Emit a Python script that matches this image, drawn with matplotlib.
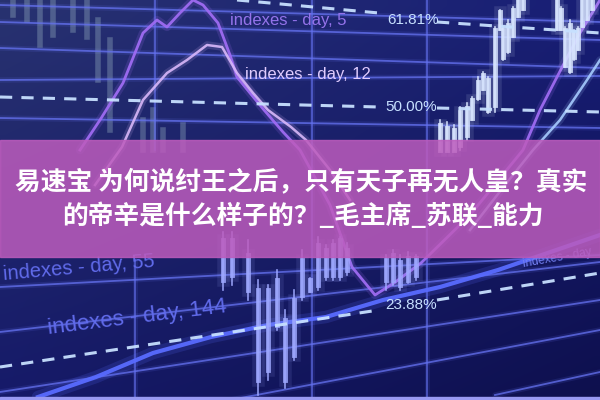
import numpy as np
import matplotlib
matplotlib.use("Agg")
import matplotlib.pyplot as plt
from matplotlib.patches import Rectangle

# ---------------- data (pixel-like chart units, y grows downward) ----------------
title_lines = ["易速宝 为何说纣王之后，只有天子再无人皇？真实",
               "的帝辛是什么样子的？_毛主席_苏联_能力"]

grid_h_top = [(0, 5, 600, 22), (0, 22, 600, 40), (0, 48, 600, 68),
              (0, 80, 600, 76), (0, 118, 600, 128)]
grid_h_bottom = [(0, 287, 600, 255), (0, 332, 600, 262), (0, 392, 600, 300),
                 (230, 400, 600, 330), (495, 395, 600, 372)]
grid_v = [(155, 0, 150), (135, 260, 400), (312, 0, 400), (427, 0, 400)]

fib_labels = ["61.81%", "50.00%", "23.88%"]
fib_label_x = [387, 385, 385]
fib_label_y = [20, 107, 305]
fib_left = [((237, 379), (0, 13)), ((0, 379), (97, 107)), ((0, 379), (367, 310))]
fib_right = [((437, 600), (22, 33)), ((437, 600), (108, 112)), ((437, 600), (300, 273))]

day5_x = [80, 100, 123, 143, 157, 167, 180, 193, 203, 218, 230, 237, 264, 283, 300,
          330, 352, 375, 394, 421, 470, 523, 540, 557, 580, 600]
day5_y = [150, 120, 83, 33, 20, 27, 13, 0, 5, 23, 55, 77, 110, 132, 150,
          205, 267, 295, 283, 263, 215, 150, 110, 77, 33, 0]

day12_x = [95, 122, 143, 167, 187, 207, 222, 237, 253, 268, 291, 306, 330, 350]
day12_y = [185, 147, 100, 73, 60, 45, 47, 73, 93, 110, 127, 140, 170, 200]

right_x = [470, 505, 533, 560, 587, 600]
right_y = [230, 185, 150, 120, 80, 60]

day144_x = [38, 96, 153, 211, 268, 326, 383, 440, 498, 536, 600]
day144_y = [397, 377, 353, 337, 325, 317, 300, 287, 270, 257, 235]

# candles: x, wick top, wick bottom, body top, body bottom
mid_x = [223, 232, 248, 258, 268, 277, 285, 294, 302, 310, 318, 326, 333, 340, 347,
         386, 393, 400, 408, 416]
mid_wt = [232, 232, 240, 280, 285, 270, 310, 290, 250, 278, 237, 245, 240, 237, 243,
          255, 250, 255, 252, 255]
mid_wb = [290, 285, 300, 395, 380, 330, 388, 360, 300, 292, 290, 280, 280, 280, 275,
          290, 285, 290, 283, 280]
mid_bt = [240, 240, 255, 290, 290, 280, 320, 300, 260, 280, 245, 250, 245, 240, 250,
          260, 255, 262, 258, 258]
mid_bb = [280, 275, 290, 380, 370, 325, 380, 355, 295, 290, 285, 275, 275, 275, 270,
          280, 280, 285, 280, 275]

rt_x = [440, 447, 454, 460, 467, 472, 478, 483, 488, 495, 500, 503, 508, 513, 518, 523,
        557, 561, 565, 570, 574, 578, 582, 587, 592]
rt_wt = [120, 122, 125, 107, 103, 97, 77, 72, 77, 27, 10, 27, 20, 7, 0, 0,
         0, 7, 27, 20, 30, 27, 0, 0, 0]
rt_wb = [150, 150, 150, 150, 140, 120, 100, 90, 113, 112, 30, 60, 53, 37, 17, 10,
         30, 30, 67, 73, 60, 50, 27, 20, 10]
rt_bt = [125, 128, 130, 112, 108, 100, 82, 75, 80, 30, 12, 30, 25, 10, 0, 0,
         0, 10, 30, 25, 32, 30, 0, 0, 0]
rt_bb = [150, 150, 150, 145, 135, 118, 97, 88, 110, 105, 28, 57, 50, 35, 15, 8,
         28, 28, 65, 70, 57, 48, 25, 18, 8]

tl_x = [13, 27, 40, 53, 73, 87, 98, 110, 143, 153, 163, 183]
tl_wt = [0, 0, 0, 0, 0, 0, 20, 40, 120, 110, 130, 125]
tl_wb = [15, 20, 45, 35, 30, 37, 80, 130, 150, 150, 150, 150]

# ---------------- figure ----------------
fig = plt.figure(figsize=(6, 4), dpi=100)
ax = fig.add_axes([0, 0, 1, 1])
ax.set_xlim(0, 600)
ax.set_ylim(400, 0)
ax.axis("off")

# background gradient
ny, nx = 40, 60
yy, xx = np.mgrid[0:1:ny * 1j, 0:1:nx * 1j]
tl = np.array([40, 50, 112]) / 255
tr = np.array([24, 30, 118]) / 255
bl = np.array([22, 26, 105]) / 255
br = np.array([14, 16, 78]) / 255
bg = ((1 - xx)[..., None] * (1 - yy)[..., None] * tl + xx[..., None] * (1 - yy)[..., None] * tr
      + (1 - xx)[..., None] * yy[..., None] * bl + xx[..., None] * yy[..., None] * br)
ax.imshow(bg, extent=(0, 600, 400, 0), aspect="auto", interpolation="bilinear", zorder=0)

gridc = (0.40, 0.45, 0.95)


def glow_line(x, y, color, lw, alpha=1.0, z=2, glow=3.0, ls="-"):
    ax.plot(x, y, color=color, lw=lw * glow, alpha=0.18 * alpha, solid_capstyle="round", zorder=z, ls=ls)
    ax.plot(x, y, color=color, lw=lw, alpha=alpha, zorder=z + 0.1, ls=ls)


for x0, y0, x1, y1 in grid_h_top + grid_h_bottom:
    glow_line([x0, x1], [y0, y1], gridc, 1.3, 0.75)
for x, y0, y1 in grid_v:
    glow_line([x, x], [y0, y1], gridc, 1.2, 0.7)

# faded top-left candles
for x, a, b in zip(tl_x, tl_wt, tl_wb):
    ax.plot([x, x], [a, b], color=(0.62, 0.72, 0.78), lw=4, alpha=0.35, zorder=2)

# curves
glow_line(day5_x, day5_y, (0.62, 0.42, 0.95), 2.0, 0.95, z=3)
glow_line(day12_x, day12_y, (0.85, 0.72, 0.98), 1.8, 0.9, z=3)
glow_line(right_x, right_y, (0.65, 0.80, 1.0), 1.8, 0.9, z=3)
glow_line(day144_x, day144_y, (0.35, 0.42, 1.0), 3.0, 0.95, z=3)


def candles(xs, wt, wb, bt, bb, color):
    for x, a, b, c, d in zip(xs, wt, wb, bt, bb):
        ax.plot([x, x], [a, b], color=color, lw=1.2, alpha=0.9, zorder=4)
        ax.plot([x, x], [c, d], color=color, lw=9, alpha=0.12, zorder=4)
        ax.plot([x, x], [c, d], color=color, lw=3.5, alpha=0.85, zorder=4.1)


candles(mid_x, mid_wt, mid_wb, mid_bt, mid_bb, (0.62, 0.66, 1.0))
candles(rt_x, rt_wt, rt_wb, rt_bt, rt_bb, (0.85, 0.90, 1.0))

# fibonacci dashed lines & labels
fibc = (0.78, 0.88, 1.0)
for (xs, ys) in fib_left + fib_right:
    ax.plot(xs, ys, color=fibc, lw=2.2, ls=(0, (4, 3)), alpha=0.95, zorder=5)
for lab, x, y in zip(fib_labels, fib_label_x, fib_label_y):
    ax.text(x, y, lab, color=fibc, fontsize=11, family="Liberation Sans",
            ha="left", va="center", zorder=6)

ax.text(230, 20, "indexes - day, 5", color=(0.58, 0.45, 0.92), fontsize=12,
        family="Liberation Sans", ha="left", va="center", zorder=6)
ax.text(245, 75, "indexes - day, 12", color=(0.88, 0.80, 1.0), fontsize=12,
        family="Liberation Sans", ha="left", va="center", zorder=6)
ax.text(2, 268, "indexes - day, 55", color=(0.38, 0.42, 0.92), fontsize=14.5,
        family="Liberation Sans", ha="left", va="center", rotation=5, zorder=6)
ax.text(46, 318, "indexes - day, 144", color=(0.38, 0.42, 0.92), fontsize=16,
        family="Liberation Sans", ha="left", va="center", rotation=7, zorder=6)
ax.text(522, 258, "indexes - day", color=(0.45, 0.50, 0.95), fontsize=8.5,
        family="Liberation Sans", ha="left", va="center", rotation=10, zorder=6)

# bottom light strip
ax.add_patch(Rectangle((0, 397), 600, 3, color=(0.60, 0.60, 0.95), zorder=6))

# pink title band
ax.add_patch(Rectangle((0, 140), 600, 117, color=(0.74, 0.36, 0.74), alpha=0.85, zorder=7))

ax.text(301, 182, title_lines[0], color="white", fontsize=18.5, fontweight="bold",
        family=["Noto Sans CJK SC", "DejaVu Sans"], ha="center", va="center", zorder=8)
ax.text(62, 217, title_lines[1], color="white", fontsize=18.5, fontweight="bold",
        family=["Noto Sans CJK SC", "DejaVu Sans"], ha="left", va="center", zorder=8)

fig.savefig("out.png", dpi=100)
